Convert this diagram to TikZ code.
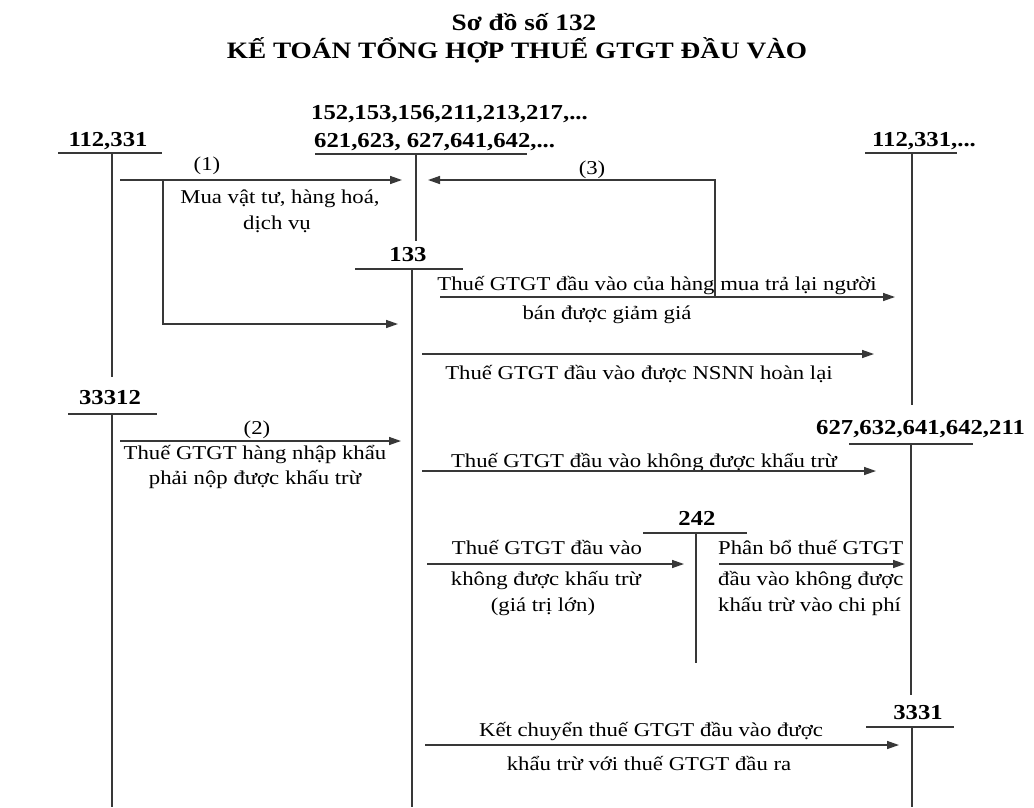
\documentclass[tikz,border=0pt]{standalone}
\usepackage{fontspec}
\setmainfont{Liberation Serif}[FakeStretch=1.16]
\usetikzlibrary{arrows.meta}
\begin{document}
\begin{tikzpicture}[x=1pt,y=-1pt,
  ln/.style={draw=black!78, line width=1.4pt},
  arr/.style={ln, -{Triangle[length=12pt,width=8pt]}},
  acc/.style={font=\fontsize{21.3}{24}\selectfont\bfseries, anchor=base, inner sep=0pt},
  ttl/.style={font=\fontsize{23.5}{28}\selectfont\bfseries, anchor=base, inner sep=0pt},
  txt/.style={font=\fontsize{19.6}{25}\selectfont, anchor=base, inner sep=0pt},
  txl/.style={txt, anchor=base west},
  ]
\useasboundingbox[fill=white] (0,0) rectangle (1034,807);

% titles
\node[ttl] (t1) at (524,30) {Sơ đồ số 132};
\node[ttl] (t2) at (517,58) {KẾ TOÁN TỔNG HỢP THUẾ GTGT ĐẦU VÀO};

% ---- account 112,331 (left)
\node[acc] (a1) at (108,146) {112,331};
\coordinate (a1L) at (58,153); \coordinate (a1R) at (162,153);
\coordinate (a1T) at (112,153); \coordinate (a1B) at (112,377);
\draw[ln] (a1L) -- (a1R);
\draw[ln] (a1T) -- (a1B);

% ---- account 152,... (top)
\node[acc, anchor=base west] (a2a) at (311,119) {152,153,156,211,213,217,...};
\node[acc, anchor=base west] (a2b) at (314,147) {621,623, 627,641,642,...};
\coordinate (a2L) at (315,154); \coordinate (a2R) at (527,154);
\coordinate (a2T) at (416,154); \coordinate (a2B) at (416,241);
\draw[ln] (a2L) -- (a2R);
\draw[ln] (a2T) -- (a2B);

% ---- account 133
\node[acc] (a3) at (408,261) {133};
\coordinate (a3L) at (355,269); \coordinate (a3R) at (463,269);
\coordinate (a3T) at (412,269); \coordinate (a3B) at (412,807);
\draw[ln] (a3L) -- (a3R);
\draw[ln] (a3T) -- (a3B);

% ---- account 112,331,... (right)
\node[acc, anchor=base west] (a4) at (872,146) {112,331,...};
\coordinate (a4L) at (865,153); \coordinate (a4R) at (957,153);
\coordinate (a4T) at (912,153); \coordinate (a4B) at (912,405);
\draw[ln] (a4L) -- (a4R);
\draw[ln] (a4T) -- (a4B);

% ---- account 33312
\node[acc] (a5) at (110,404) {33312};
\coordinate (a5L) at (68,414); \coordinate (a5R) at (157,414);
\coordinate (a5T) at (112,414); \coordinate (a5B) at (112,807);
\draw[ln] (a5L) -- (a5R);
\draw[ln] (a5T) -- (a5B);

% ---- account 627,632,...
\node[acc, anchor=base west] (a6) at (816,434) {627,632,641,642,211};
\coordinate (a6L) at (849,444); \coordinate (a6R) at (973,444);
\coordinate (a6T) at (911,444); \coordinate (a6B) at (911,695);
\draw[ln] (a6L) -- (a6R);
\draw[ln] (a6T) -- (a6B);

% ---- account 242
\node[acc] (a7) at (697,525) {242};
\coordinate (a7L) at (643,533); \coordinate (a7R) at (747,533);
\coordinate (a7T) at (696,533); \coordinate (a7B) at (696,663);
\draw[ln] (a7L) -- (a7R);
\draw[ln] (a7T) -- (a7B);

% ---- account 3331
\node[acc] (a8) at (918,719) {3331};
\coordinate (a8L) at (866,727); \coordinate (a8R) at (954,727);
\coordinate (a8T) at (912,727); \coordinate (a8B) at (912,807);
\draw[ln] (a8L) -- (a8R);
\draw[ln] (a8T) -- (a8B);

% ---- (1) purchase
\coordinate (p1s) at (120,180); \coordinate (p1e) at (402,180);
\draw[arr] (p1s) -- (p1e);
\node[txt] (l1) at (207,170) {(1)};
\node[txt] (l1a) at (280,203) {Mua vật tư, hàng hoá,};
\node[txt] (l1b) at (277,229) {dịch vụ};
\coordinate (p1k) at (163,180); \coordinate (p1m) at (163,324); \coordinate (p1n) at (398,324);
\draw[arr] (p1k) -- (p1m) -- (p1n);

% ---- (3) returns
\coordinate (p3a) at (715,297); \coordinate (p3b) at (715,180); \coordinate (p3c) at (428,180);
\draw[arr] (p3a) -- (p3b) -- (p3c);
\node[txt] (l3) at (592,174) {(3)};

% ---- returned goods
\node[txt] (r1) at (657,290) {Thuế GTGT đầu vào của hàng mua trả lại người};
\node[txt] (r2) at (607,319) {bán được giảm giá};
\coordinate (r1s) at (440,297); \coordinate (r1e) at (895,297);
\draw[arr] (r1s) -- (r1e);

% ---- refund
\coordinate (n1s) at (422,354); \coordinate (n1e) at (874,354);
\draw[arr] (n1s) -- (n1e);
\node[txt] (n1) at (639,379) {Thuế GTGT đầu vào được NSNN hoàn lại};

% ---- (2) import VAT
\coordinate (p2s) at (120,441); \coordinate (p2e) at (401,441);
\draw[arr] (p2s) -- (p2e);
\node[txt] (l2) at (257,434) {(2)};
\node[txt] (l2a) at (255,459) {Thuế GTGT hàng nhập khẩu};
\node[txt] (l2b) at (255,484) {phải nộp được khấu trừ};

% ---- non-deductible
\node[txt] (k1) at (644,467) {Thuế GTGT đầu vào không được khẩu trừ};
\coordinate (k1s) at (422,471); \coordinate (k1e) at (876,471);
\draw[arr] (k1s) -- (k1e);

% ---- to 242
\coordinate (g1s) at (427,564); \coordinate (g1e) at (684,564);
\draw[arr] (g1s) -- (g1e);
\node[txt] (g1a) at (547,554) {Thuế GTGT đầu vào};
\node[txt] (g1b) at (546,585) {không được khấu trừ};
\node[txt] (g1c) at (543,611) {(giá trị lớn)};

% ---- allocation
\coordinate (g2s) at (719,564); \coordinate (g2e) at (905,564);
\draw[arr] (g2s) -- (g2e);
\node[txl] (g2a) at (718,554) {Phân bổ thuế GTGT};
\node[txl] (g2b) at (718,585) {đầu vào không được};
\node[txl] (g2c) at (718,611) {khấu trừ vào chi phí};

% ---- offset
\node[txt] (o1) at (651,736) {Kết chuyển thuế GTGT đầu vào được};
\coordinate (o1s) at (425,745); \coordinate (o1e) at (899,745);
\draw[arr] (o1s) -- (o1e);
\node[txt] (o2) at (649,770) {khẩu trừ với thuế GTGT đầu ra};
\end{tikzpicture}
\end{document}
